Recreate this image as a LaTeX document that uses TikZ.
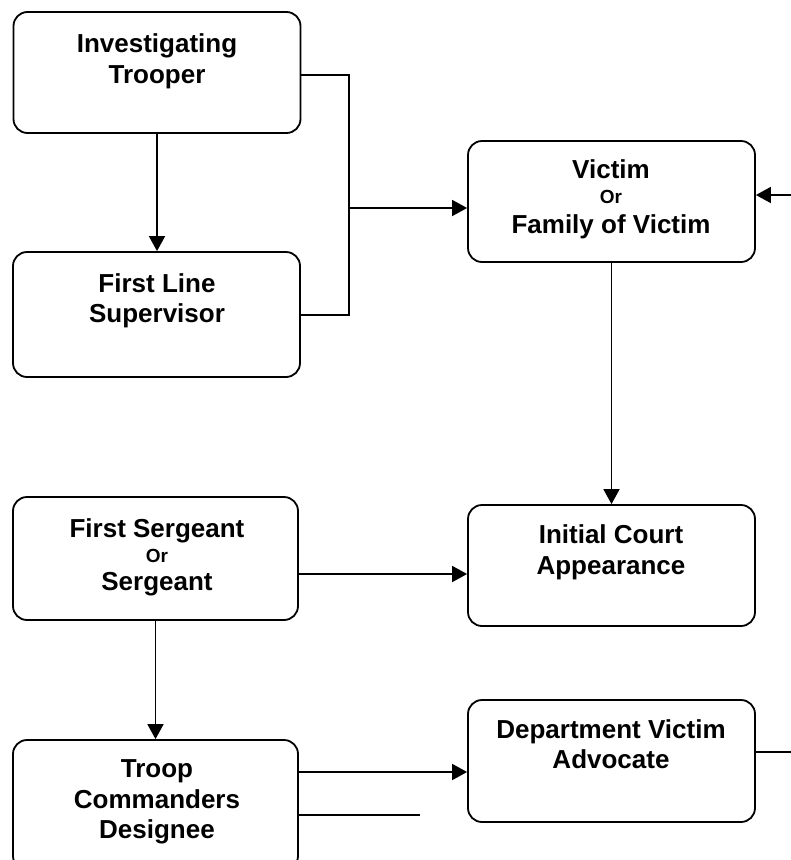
\documentclass[tikz,border=0pt]{standalone}
\usepackage{fontspec}
\setmainfont{Liberation Sans}
\usetikzlibrary{arrows.meta}
\begin{document}
\begin{tikzpicture}[x=1pt,y=-1pt,
  box/.style={draw, line width=1.8pt, rounded corners=14pt, minimum width=287pt, minimum height=121pt, inner sep=0pt},
  big/.style={anchor=base, font=\fontsize{26}{30}\selectfont\bfseries, inner sep=0pt},
  small/.style={anchor=base, font=\fontsize{19}{22}\selectfont\bfseries, inner sep=0pt},
  con/.style={line width=1.7pt},
  arr/.style={con, -{Triangle[length=15pt,width=16pt]}}]
\useasboundingbox (0,0) rectangle (791,860);
% boxes
\node[box] (it)  at (157,72.5) {};
\node[box, minimum height=125pt] (fls) at (156.5,314.5) {};
\node[box] (vic) at (611.5,201.5) {};
\node[box] (ica) at (611.5,565.5) {};
\node[box, minimum width=285pt, minimum height=123pt] (fs) at (155.5,558.5) {};
\node[box, minimum width=285pt, minimum height=130pt] (tc) at (155.5,805) {};
\node[box, minimum height=122pt] (dva) at (611.5,761) {};
% texts
\node[big] (it1) at (157,52) {Investigating};
\node[big] (it2) at (157,83) {Trooper};
\node[big] (fl1) at (157,292) {First Line};
\node[big] (fl2) at (157,322) {Supervisor};
\node[big] (v1) at (611,178) {Victim};
\node[small] (v2) at (611,203) {Or};
\node[big] (v3) at (611,233) {Family of Victim};
\node[big] (f1) at (157,537) {First Sergeant};
\node[small] (f2) at (157,562) {Or};
\node[big] (f3) at (157,590) {Sergeant};
\node[big] (i1) at (611,543) {Initial Court};
\node[big] (i2) at (611,574) {Appearance};
\node[big] (d1) at (611,738) {Department Victim};
\node[big] (d2) at (611,768) {Advocate};
\node[big] (t1) at (157,777) {Troop};
\node[big] (t2) at (157,808) {Commanders};
\node[big] (t3) at (157,838) {Designee};
% coordinates
\coordinate (br1) at (349,75);
\coordinate (br2) at (349,315);
\coordinate (brm) at (349,208);
\coordinate (vin) at (791,195);
\coordinate (fsy) at (0,574);
\coordinate (tcy) at (0,772);
\coordinate (tcfree) at (420,815);
\coordinate (dvout) at (791,752);
% connectors
\draw[arr] (it.south) -- (it.south |- fls.north);
\draw[con] (it.east |- br1) -- (br1) -- (br2) -- (fls.east |- br2);
\draw[arr] (brm) -- (vic.west |- brm);
\draw[arr] (vin) -- (vic.east |- vin);
\draw[arr] (vic.south) -- (vic.south |- ica.north);
\draw[arr] (fs.east |- fsy) -- (ica.west |- fsy);
\draw[arr] (fs.south) -- (fs.south |- tc.north);
\draw[arr] (tc.east |- tcy) -- (dva.west |- tcy);
\draw[con] (tc.east |- tcfree) -- (tcfree);
\draw[con] (dva.east |- dvout) -- (dvout);
\end{tikzpicture}
\end{document}
